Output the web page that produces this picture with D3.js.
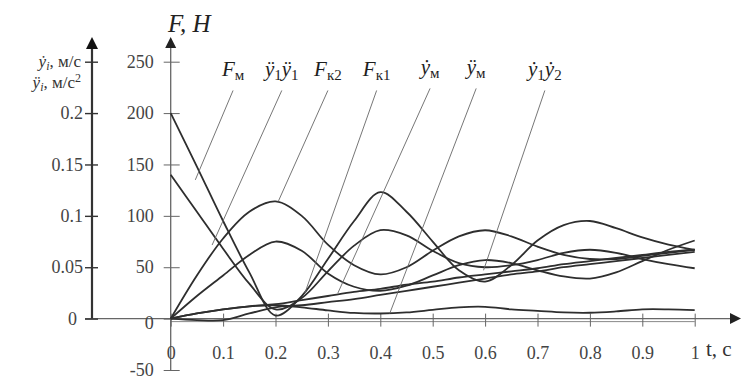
<!DOCTYPE html>
<html>
<head>
<meta charset="utf-8">
<script src="https://cdn.jsdelivr.net/npm/d3@7"></script>
<style>
  html, body { margin: 0; padding: 0; background: #fff; }
  svg { display: block; }
  svg text { font-family: "Liberation Serif", "Times New Roman", serif; }
</style>
</head>
<body>
<svg id="chart" width="744" height="380"></svg>
<script>
// time samples, s
const time = [0, 0.05, 0.1, 0.15, 0.2, 0.25, 0.3, 0.35, 0.4, 0.45, 0.5,
              0.55, 0.6, 0.65, 0.7, 0.75, 0.8, 0.85, 0.9, 0.95, 1];

// series, in F units (N); velocity/acceleration curves x1000
const forceM  = [200, 148, 95, 45, 3, 22, 58, 95, 123, 104, 75, 47, 36, 52, 76, 91, 95, 88, 79, 72, 67];
const forceK1 = [140, 104, 68, 34, 9, 20, 46, 71, 86, 81, 66, 54, 50, 52, 57, 64, 67, 64, 58, 53, 49];
const forceK2 = [0, 42, 78, 104, 114, 100, 72, 52, 43, 50, 66, 80, 86, 80, 70, 62, 58, 58, 61, 64, 67];
const accel1  = [0, 22, 42, 62, 75, 66, 44, 31, 27, 32, 42, 52, 57, 54, 47, 41, 39, 45, 56, 67, 76];
const velM    = [0, 5, 9, 12, 14, 18, 22, 26, 29, 33, 36, 40, 43, 46, 49, 53, 56, 59, 62, 65, 67];
const vel2    = [0, -1.5, -1.5, 5, 11, 13, 16, 19, 23, 27, 31, 35, 39, 43, 46, 50, 53, 56, 59, 62, 65];
const accelM  = [0, 5, 9, 12, 13, 11, 8, 5.5, 5, 6, 8.5, 11, 11.5, 9, 7.5, 6, 5.7, 7, 9, 9, 8.3];

const seriesList = [forceM, forceK1, forceK2, accel1, velM, vel2, accelM];

// tick values
const forceTicks = [-50, 0, 50, 100, 150, 200, 250];
const velTicks = [0, 0.05, 0.1, 0.15, 0.2, 0.25];
const timeTicks = [0, 0.1, 0.2, 0.3, 0.4, 0.5, 0.6, 0.7, 0.8, 0.9, 1];

// callout labels: [symbol, subscript] parts, leader top (t, F) and leader end (t, F)
const callouts = [
  { parts: [["F", "м"]],             top: [0.119, 222], end: [0.047, 135] },
  { parts: [["ÿ", "1"], ["ÿ", "1"]], top: [0.212, 222], end: [0.079, 71.6] },
  { parts: [["F", "к2"]],            top: [0.300, 222], end: [0.205, 113.7] },
  { parts: [["F", "к1"]],            top: [0.393, 222], end: [0.256, 24.8] },
  { parts: [["ẏ", "м"]],             top: [0.495, 224], end: [0.319, 24.8] },
  { parts: [["ÿ", "м"]],             top: [0.583, 224], end: [0.418, 5] },
  { parts: [["ẏ", "1"], ["ẏ", "2"]], top: [0.714, 222], end: [0.597, 47] }
];

const svg = d3.select('#chart');

const x = d3.scaleLinear().domain([0, 1]).range([170.7, 694.7]);
const yF = d3.scaleLinear().domain([-50, 250]).range([370, 61.7]);
const yV = d3.scaleLinear().domain([0, 0.25]).range([yF(0), yF(250)]);

const axisColor = '#666';
const labelColor = '#444';
const velAxisX = 92;

// horizontal axis line with arrow
svg.append('line')
  .attr('x1', 85).attr('x2', 732)
  .attr('y1', yF(0)).attr('y2', yF(0))
  .attr('stroke', axisColor).attr('stroke-width', 1.3);
svg.append('path')
  .attr('d', `M741,${yF(0)}L730,${yF(0) - 5.5}L730,${yF(0) + 5.5}Z`)
  .attr('fill', '#222');
// second (shifted) baseline seen in the picture
svg.append('line')
  .attr('x1', x(0)).attr('x2', x(1))
  .attr('y1', yF(0) + 3).attr('y2', yF(0) + 3)
  .attr('stroke', '#888').attr('stroke-width', 1);

// force axis
svg.append('line')
  .attr('x1', x(0)).attr('x2', x(0))
  .attr('y1', yF(-50)).attr('y2', 46)
  .attr('stroke', axisColor).attr('stroke-width', 1.3);
svg.append('path')
  .attr('d', `M${x(0)},37L${x(0) - 5.5},48L${x(0) + 5.5},48Z`)
  .attr('fill', '#222');

const forceAxis = svg.append('g')
  .attr('transform', `translate(${x(0)},0)`)
  .call(d3.axisLeft(yF).tickValues(forceTicks).tickSize(7).tickPadding(10).tickSizeOuter(0)
    .tickFormat(d => String(d)));
forceAxis.attr('font-size', 18);
forceAxis.select('.domain').remove();
forceAxis.selectAll('.tick line').attr('x1', 9).attr('stroke', axisColor);
forceAxis.selectAll('.tick text')
  .attr('fill', labelColor)
  .attr('dy', d => d === 0 ? '0.55em' : '0.32em');

// velocity / acceleration axis
svg.append('line')
  .attr('x1', velAxisX).attr('x2', velAxisX)
  .attr('y1', yF(0)).attr('y2', 46)
  .attr('stroke', '#333').attr('stroke-width', 2.2);
svg.append('path')
  .attr('d', `M${velAxisX},37L${velAxisX - 6},49L${velAxisX + 6},49Z`)
  .attr('fill', '#111');

const velAxis = svg.append('g')
  .attr('transform', `translate(${velAxisX},0)`)
  .call(d3.axisLeft(yV).tickValues(velTicks).tickSize(7).tickPadding(2).tickSizeOuter(0)
    .tickFormat(d => d === 0.25 ? '' : String(d)));
velAxis.attr('font-size', 18);
velAxis.select('.domain').remove();
velAxis.selectAll('.tick line').attr('x1', 6).attr('stroke', '#333').attr('stroke-width', 1.4);
velAxis.selectAll('.tick text')
  .attr('fill', labelColor)
  .attr('x', d => d === 0 ? -15 : -9);

// time axis ticks
const timeAxis = svg.append('g')
  .attr('transform', `translate(0,${yF(0)})`)
  .call(d3.axisBottom(x).tickValues(timeTicks).tickSize(8).tickPadding(20).tickSizeOuter(0)
    .tickFormat(d => String(d)));
timeAxis.attr('font-size', 18);
timeAxis.select('.domain').remove();
timeAxis.selectAll('.tick line').attr('y1', -5).attr('stroke', axisColor);
timeAxis.selectAll('.tick text').attr('fill', labelColor);

// axis titles
svg.append('text')
  .attr('x', 706).attr('y', 356)
  .attr('fill', '#333')
  .attr('font-size', 21)
  .text('t, c');

svg.append('text')
  .attr('x', 168).attr('y', 32)
  .attr('fill', '#222')
  .attr('font-size', 25)
  .attr('font-style', 'italic')
  .text('F, Н');

const velTitle = svg.append('g').attr('fill', '#333').attr('font-size', 17);
const vt1 = velTitle.append('text').attr('x', 81).attr('y', 67).attr('text-anchor', 'end');
vt1.append('tspan').attr('font-style', 'italic').text('ẏ');
vt1.append('tspan').attr('dy', 3).attr('font-size', 12).attr('font-style', 'italic').text('i');
vt1.append('tspan').attr('dy', -3).text(', м/с');
const vt2 = velTitle.append('text').attr('x', 81).attr('y', 88).attr('text-anchor', 'end');
vt2.append('tspan').attr('font-style', 'italic').text('ÿ');
vt2.append('tspan').attr('dy', 3).attr('font-size', 12).attr('font-style', 'italic').text('i');
vt2.append('tspan').attr('dy', -3).text(', м/с');
vt2.append('tspan').attr('dy', -6).attr('font-size', 12).text('2');

// curves
const line = d3.line()
  .x((d, i) => x(time[i]))
  .y(d => yF(d))
  .curve(d3.curveCatmullRom.alpha(0.5));

svg.append('g')
  .selectAll('path')
  .data(seriesList)
  .enter()
  .append('path')
  .attr('d', line)
  .attr('fill', 'none')
  .attr('stroke', '#2e2e2e')
  .attr('stroke-width', 1.8)
  .attr('stroke-linejoin', 'round');

// leader lines
svg.append('g')
  .selectAll('line')
  .data(callouts)
  .enter()
  .append('line')
  .attr('x1', d => x(d.top[0])).attr('y1', d => yF(d.top[1]))
  .attr('x2', d => x(d.end[0])).attr('y2', d => yF(d.end[1]))
  .attr('stroke', '#666')
  .attr('stroke-width', 0.9);

// callout labels
const labels = svg.append('g')
  .selectAll('text')
  .data(callouts)
  .enter()
  .append('text')
  .attr('x', d => x(d.top[0]))
  .attr('y', d => yF(d.top[1]) - 14)
  .attr('text-anchor', 'middle')
  .attr('fill', '#1e1e1e')
  .attr('font-size', 21);

labels.each(function (d) {
  const t = d3.select(this);
  d.parts.forEach((p, i) => {
    t.append('tspan')
      .attr('dy', i === 0 ? 0 : -4)
      .attr('font-style', 'italic')
      .text(p[0]);
    t.append('tspan')
      .attr('dy', 4)
      .attr('font-size', 15)
      .text(p[1]);
  });
});
</script>
</body>
</html>
